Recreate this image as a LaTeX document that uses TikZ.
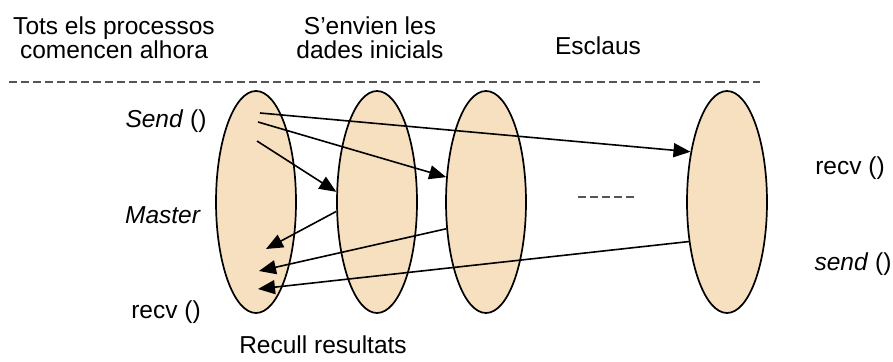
\documentclass[tikz,border=0pt]{standalone}
\usepackage{fontspec}
\setmainfont{Liberation Sans}
\usetikzlibrary{shapes.geometric,arrows.meta}
\definecolor{procfill}{RGB}{246,224,192}
\definecolor{rulegray}{RGB}{85,85,85}

\begin{document}
\begin{tikzpicture}[x=1pt,y=-1pt,
  font=\fontsize{24.5}{24}\selectfont,
  msg/.style={-{Triangle[length=17pt,width=14pt]}, line width=1.6pt}]
 \useasboundingbox (0,0) rectangle (893,361);
 % labels
 \node[align=center] (start) at (114,38) {Tots els processos\\comencen alhora};
 \node[align=center] (init) at (370,38) {S’envien les\\dades inicials};
 \node[anchor=base] (slaves) at (598,55) {Esclaus};
 \node[anchor=base] (send) at (166,127) {\textit{Send} ()};
 \node[anchor=base] (mlabel) at (163,223) {\textit{Master}};
 \node[anchor=base] (recv) at (166,318) {recv ()};
 \node[anchor=base] (collect) at (323,353) {Recull resultats};
 \node[anchor=base] (srecv) at (850,174) {recv ()};
 \node[anchor=base] (ssend) at (853,270) {\textit{send} ()};
 % separator
 \coordinate (rl) at (9,82);
 \coordinate (rr) at (760,82);
 \path [draw=rulegray, line width=2.8pt, dash pattern=on 8pt off 4pt] (rl) -- (rr);
 \coordinate (dl) at (578,197);
 \coordinate (dr) at (636,197);
 \path [draw=rulegray, line width=2.8pt, dash pattern=on 8pt off 4pt] (dl) -- (dr);
 % processes
 \begin{scope}[every node/.style={draw, ellipse, fill=procfill, line width=1.7pt,
                      minimum width=80pt, minimum height=222pt, inner sep=0pt}]
  \node (master) at (256,202) {};
  \node (p1) at (377,202) {};
  \node (p2) at (486,202) {};
  \node (pn) at (727,202) {};
 \end{scope}
 % send / recv points in master
 \coordinate (s1) at (260,113);
 \coordinate (s2) at (258,122);
 \coordinate (s3) at (257,141);
 \coordinate (r1) at (266,249);
 \coordinate (r2) at (259,271);
 \coordinate (r3) at (258,289);
  \path [msg] (s1) edge node {} (pn.126);
  \path [msg] (s2) edge node {} (p2.148);
  \path [msg] (s3) edge node {} (p1.166);
  \path [msg] (p1.193) edge node {} (r1);
  \path [msg] (p2.214) edge node {} (r2);
  \path [msg] (pn.226) edge node {} (r3);
\end{tikzpicture}
\end{document}
